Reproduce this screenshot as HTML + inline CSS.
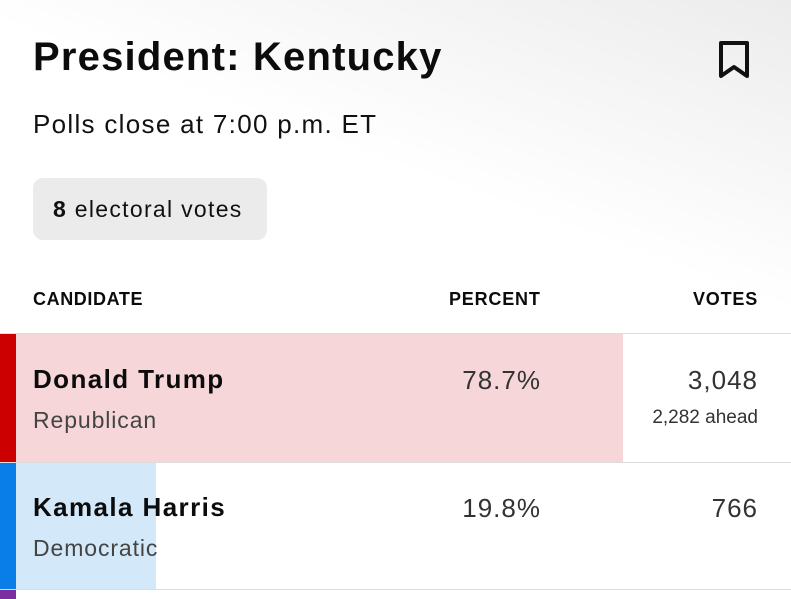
<!DOCTYPE html>
<html><head><style>
body{margin:0;width:791px;height:599px;overflow:hidden;font-family:"Liberation Sans",sans-serif;background:linear-gradient(200deg,#ececec 0%,#fff 35%);position:relative;color:#0c0c0c}
div{position:absolute}
.t{white-space:nowrap}
</style></head><body>
<div class="t" style="left:33px;top:35px;font-size:40px;font-weight:bold;letter-spacing:1.2px">President: Kentucky</div>
<svg style="position:absolute;left:718px;top:40px" width="34" height="40"><path d="M3 3 H29 V36 L16 27 L3 36 Z" fill="none" stroke="#111" stroke-width="4" stroke-linejoin="round"/></svg>
<div class="t" style="left:33px;top:109px;font-size:26px;color:#111;letter-spacing:1.3px">Polls close at 7:00 p.m. ET</div>
<div style="left:33px;top:178px;width:234px;height:62px;border-radius:10px;background:#ebebeb"></div>
<div class="t" style="left:53px;top:196px;font-size:23px;color:#111;letter-spacing:1.3px"><b>8</b> electoral votes</div>
<div class="t" style="left:33px;top:289px;font-size:18px;font-weight:bold;letter-spacing:0.6px">CANDIDATE</div>
<div class="t" style="left:449px;top:289px;font-size:18px;font-weight:bold;letter-spacing:0.8px">PERCENT</div>
<div class="t" style="right:33px;top:289px;font-size:18px;font-weight:bold;letter-spacing:0.8px">VOTES</div>
<div style="left:0;top:333px;width:791px;height:1px;background:#ddd"></div>
<div style="left:0;top:334px;width:16px;height:129px;background:#cc0000"></div>
<div style="left:16px;top:334px;width:607px;height:129px;background:#f6d6d8"></div>
<div style="left:0;top:462px;width:791px;height:1px;background:#ddd"></div>
<div class="t" style="left:33px;top:364px;font-size:26px;font-weight:bold;letter-spacing:1.4px">Donald Trump</div>
<div class="t" style="left:33px;top:407px;font-size:23px;color:#444;letter-spacing:0.9px">Republican</div>
<div class="t" style="right:250px;top:365px;font-size:26px;color:#333;letter-spacing:1px">78.7%</div>
<div class="t" style="right:33px;top:365px;font-size:26px;color:#333;letter-spacing:1px">3,048</div>
<div class="t" style="right:33px;top:407px;font-size:19px;color:#333">2,282 ahead</div>
<div style="left:0;top:463px;width:16px;height:127px;background:#0a7ee8"></div>
<div style="left:16px;top:463px;width:140px;height:127px;background:#d3e8f8"></div>
<div class="t" style="left:33px;top:492px;font-size:26px;font-weight:bold;letter-spacing:1.4px">Kamala Harris</div>
<div class="t" style="left:33px;top:535px;font-size:23px;color:#444;letter-spacing:0.9px">Democratic</div>
<div class="t" style="right:250px;top:493px;font-size:26px;color:#333;letter-spacing:1px">19.8%</div>
<div class="t" style="right:33px;top:493px;font-size:26px;color:#333;letter-spacing:1px">766</div>
<div style="left:0;top:589px;width:791px;height:1px;background:#ddd"></div>
<div style="left:0;top:590px;width:16px;height:9px;background:#7a2ea0"></div>
</body></html>
